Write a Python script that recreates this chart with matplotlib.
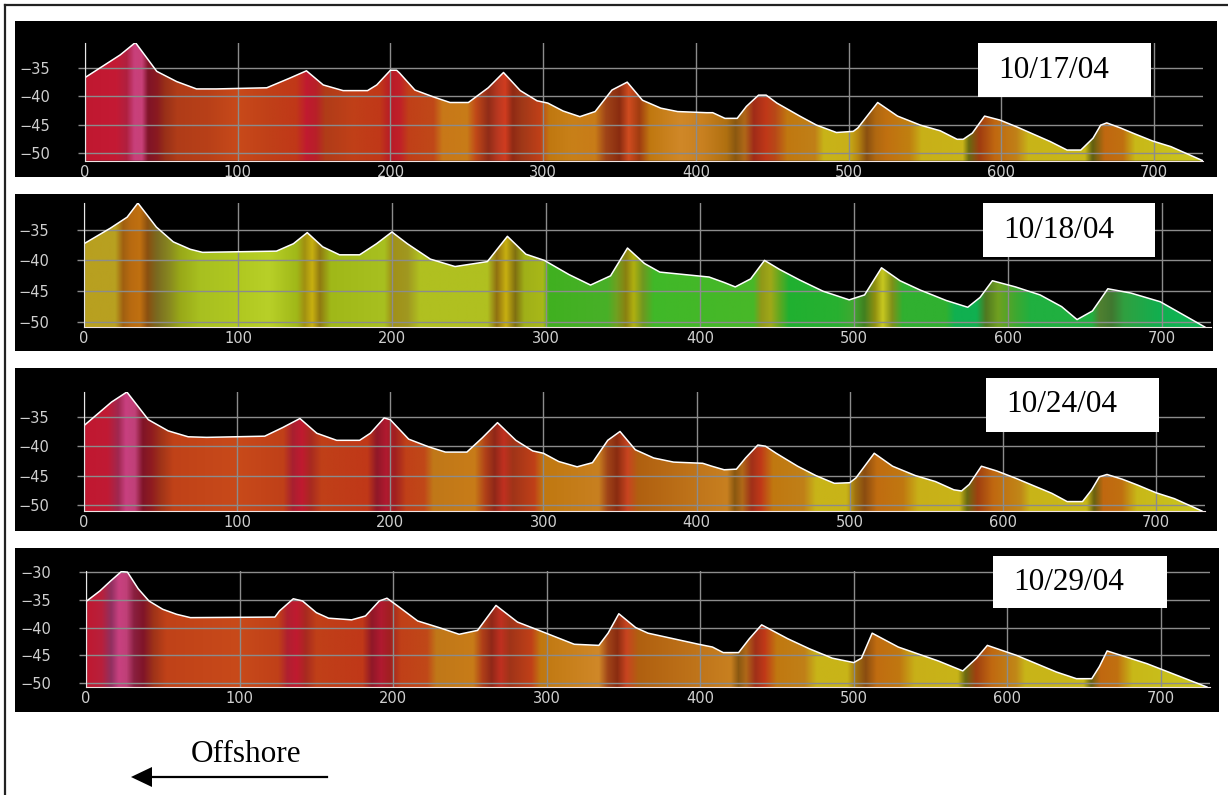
import numpy as np
import matplotlib.pyplot as plt
from matplotlib.patches import Rectangle
from matplotlib.colors import to_rgb

W, H = 1228, 795

xticks = [0, 100, 200, 300, 400, 500, 600, 700]
dates = ["10/17/04", "10/18/04", "10/24/04", "10/29/04"]

# profiles: distance along line (m) vs elevation (m)
x1 = [0, 23, 33, 47, 60, 73, 86, 119, 134, 145, 156, 169, 185, 191, 200, 204, 206, 216, 228, 239,
      251, 264, 274, 285, 296, 303, 313, 324, 334, 345, 355, 365, 377, 388, 407, 411, 419, 427, 433,
      441, 446, 453, 468, 479, 492, 503, 506, 519, 532, 547, 560, 571, 575, 581, 589, 599, 610, 621,
      632, 643, 652, 660, 665, 669, 678, 686, 699, 711, 732]
z1 = [-36.7, -32.7, -30.5, -35.6, -37.4, -38.7, -38.7, -38.5, -36.8, -35.5, -38.0, -39.0, -39.0, -38.0,
      -35.4, -35.4, -35.9, -38.9, -40.1, -41.1, -41.1, -38.5, -35.8, -39.0, -40.8, -41.2, -42.6, -43.6,
      -42.7, -38.9, -37.5, -40.7, -42.1, -42.7, -42.9, -42.9, -43.9, -43.9, -41.8, -39.8, -39.8, -41.2,
      -43.5, -45.1, -46.4, -46.2, -45.6, -41.1, -43.5, -45.1, -46.1, -47.6, -47.6, -46.5, -43.5, -44.2,
      -45.4, -46.7, -48.0, -49.5, -49.5, -47.4, -45.1, -44.7, -45.6, -46.5, -47.9, -48.9, -51.4]

x2 = [0, 17, 28, 35, 47, 58, 69, 77, 125, 136, 145, 155, 166, 179, 190, 200, 210, 225, 241, 262,
      275, 287, 299, 315, 329, 342, 353, 364, 374, 406, 416, 423, 433, 442, 452, 465, 480, 497, 507,
      518, 530, 543, 560, 574, 582, 590, 605, 621, 635, 645, 655, 665, 680, 699, 728]
z2 = [-37.3, -34.8, -33.0, -30.7, -34.6, -37.0, -38.2, -38.7, -38.5, -37.3, -35.5, -37.8, -39.1, -39.1,
      -37.3, -35.4, -37.3, -39.8, -41.0, -40.2, -36.1, -39.0, -40.0, -42.3, -44.0, -42.5, -38.0, -40.5,
      -41.9, -42.7, -43.6, -44.3, -43.0, -40.0, -41.5, -43.2, -45.0, -46.4, -45.6, -41.2, -43.3, -44.8,
      -46.5, -47.6, -46.0, -43.3, -44.3, -45.6, -47.5, -49.6, -48.2, -44.6, -45.3, -46.7, -50.8]

x3 = [0, 18, 28, 42, 55, 68, 80, 118, 130, 141, 152, 165, 180, 187, 196, 200, 212, 225, 236, 250,
      260, 270, 282, 293, 300, 310, 322, 332, 342, 350, 360, 372, 385, 404, 410, 418, 426, 432, 440,
      445, 452, 466, 478, 490, 500, 504, 516, 528, 543, 556, 568, 573, 578, 586, 596, 608, 620, 632,
      642, 652, 658, 663, 668, 678, 688, 700, 712, 730]
z3 = [-36.5, -32.5, -30.8, -35.5, -37.4, -38.4, -38.5, -38.3, -36.8, -35.3, -37.8, -39.0, -39.0, -37.8,
      -35.2, -35.5, -38.8, -40.1, -41.0, -41.0, -38.6, -36.0, -39.0, -40.8, -41.2, -42.6, -43.5, -42.8,
      -39.0, -37.5, -40.6, -42.0, -42.7, -42.9, -43.4, -44.0, -43.9, -42.0, -39.8, -40.0, -41.2, -43.4,
      -45.0, -46.3, -46.2, -45.4, -41.2, -43.4, -45.0, -46.0, -47.4, -47.6, -46.5, -43.4, -44.2, -45.4,
      -46.7, -48.0, -49.4, -49.4, -47.4, -45.2, -44.8, -45.6, -46.6, -47.9, -48.9, -51.0]

x4 = [0, 9, 16, 23, 27, 34, 41, 50, 59, 68, 123, 126, 135, 141, 150, 158, 173, 182, 191, 196,
      203, 216, 230, 243, 255, 267, 281, 295, 318, 334, 340, 347, 358, 366, 399, 408, 415, 425, 432,
      440, 457, 471, 486, 500, 505, 512, 529, 555, 571, 580, 587, 606, 632, 645, 655, 660, 665, 691, 730]
z4 = [-35.3, -33.4, -31.6, -29.9, -30.0, -33.0, -35.2, -36.7, -37.6, -38.2, -38.1, -37.0, -34.8, -35.2,
      -37.3, -38.3, -38.6, -37.9, -35.2, -34.7, -36.1, -38.8, -40.0, -41.2, -40.5, -36.0, -39.0, -40.5,
      -43.0, -43.2, -41.0, -37.5, -40.0, -41.0, -43.0, -43.5, -44.5, -44.5, -42.0, -39.5, -42.0, -43.8,
      -45.5, -46.3, -45.5, -41.0, -43.5, -46.0, -47.8, -45.5, -43.2, -45.0, -48.0, -49.2, -49.2, -47.0,
      -44.2, -46.5, -50.7]

# colour bands along the line (position, colour)
c1_pos = [0, 20, 27, 32, 37, 41, 47, 52, 60, 80, 100, 120, 138, 145, 151, 157, 175, 193, 200, 206,
          212, 228, 234, 250, 256, 264, 270, 275, 280, 286, 298, 304, 318, 334, 341, 350, 356, 363,
          370, 390, 405, 420, 426, 432, 438, 446, 452, 460, 478, 484, 500, 506, 512, 518, 525, 540,
          548, 575, 579, 586, 596, 610, 618, 655, 660, 668, 680, 688, 735]
c1_col = ['#c01830', '#c41a34', '#b02040', '#c8407c', '#c84078', '#801428', '#8a1a20', '#983018',
          '#b03c18', '#b84018', '#c84a1a', '#c04018', '#c03818', '#c01a30', '#b82028', '#b03c18',
          '#c04018', '#c03818', '#b81a28', '#c02028', '#c04018', '#c04818', '#c87818', '#c87c18',
          '#c04818', '#902c18', '#b83820', '#d03c20', '#902a14', '#a03818', '#c04018', '#c07810',
          '#c88018', '#c87c18', '#a04418', '#8a2c10', '#d04c20', '#a03c10', '#c07810', '#d08828',
          '#c88020', '#b07010', '#8a5810', '#b06818', '#a02c18', '#c03818', '#b84818', '#c07810',
          '#c08018', '#c8b418', '#c8b018', '#b88810', '#8a5010', '#b06810', '#c07010', '#c08010',
          '#c8b018', '#c8b418', '#6a6a10', '#a03c10', '#c06810', '#c08018', '#c8b418', '#c8b818',
          '#606010', '#c06810', '#c07010', '#c8b818', '#cac820']

c2_pos = [0, 20, 25, 30, 36, 41, 47, 55, 62, 75, 100, 120, 138, 143, 148, 153, 160, 195, 200, 210,
          218, 262, 268, 274, 280, 286, 298, 302, 340, 346, 352, 357, 363, 370, 435, 440, 446, 452,
          458, 490, 500, 507, 514, 519, 525, 532, 560, 566, 580, 586, 594, 605, 615, 655, 660, 668,
          676, 700, 735]
c2_col = ['#b8a020', '#b8a020', '#a06010', '#b86a10', '#c07010', '#8a5010', '#7a6a20', '#888820',
          '#98a818', '#a8c020', '#b0c820', '#b8d028', '#a0b818', '#a09010', '#c8b010', '#907a10',
          '#a0b818', '#a8c020', '#a09018', '#a09820', '#b0c020', '#b0c020', '#907010', '#c8b010',
          '#807010', '#a0b018', '#a8b818', '#40b020', '#48b028', '#70a020', '#8a8010', '#b0b010',
          '#709820', '#40b828', '#48b828', '#909818', '#a0a818', '#60a820', '#20b030', '#28b030',
          '#40a830', '#408020', '#909010', '#c8c820', '#809018', '#30b030', '#30b030', '#10b050',
          '#10b050', '#507820', '#70a020', '#40a830', '#20b040', '#20b040', '#508030', '#407830',
          '#30a040', '#10b050', '#10b858']

c3_pos = [0, 15, 22, 27, 33, 38, 44, 50, 58, 100, 130, 136, 142, 148, 155, 185, 191, 197, 203, 210,
          222, 228, 255, 262, 268, 274, 280, 294, 300, 336, 342, 348, 355, 362, 420, 425, 430, 436,
          442, 450, 470, 478, 498, 504, 510, 518, 535, 545, 572, 577, 584, 594, 612, 618, 655, 660,
          666, 678, 688, 735]
c3_col = ['#c01830', '#c01a34', '#a02850', '#c84080', '#c04078', '#801428', '#901c20', '#a03418',
          '#c04218', '#c84a1a', '#c04018', '#a82030', '#c01a30', '#a82a20', '#c04018', '#c03818',
          '#901828', '#b01a30', '#a02020', '#c04018', '#c04818', '#c07818', '#c87c18', '#b04018',
          '#902818', '#c03020', '#a03418', '#c04018', '#c07810', '#c88020', '#a04418', '#8a2c10',
          '#c84420', '#b06010', '#c88020', '#8a5810', '#b06818', '#a03018', '#c03818', '#c07810',
          '#c08018', '#c8b418', '#c8b418', '#a07010', '#8a4c10', '#c06c10', '#c07810', '#c8b018',
          '#c8b418', '#6a6a10', '#a04010', '#c06810', '#c08818', '#c8b418', '#c8b818', '#686010',
          '#c06810', '#c07010', '#c8b818', '#cac820']

c4_pos = [0, 10, 16, 21, 26, 31, 37, 44, 52, 100, 125, 131, 137, 143, 150, 180, 186, 192, 198, 205,
          222, 228, 252, 258, 264, 270, 276, 290, 296, 334, 340, 346, 352, 360, 420, 425, 430, 436,
          442, 450, 468, 476, 496, 502, 508, 515, 530, 540, 568, 573, 580, 590, 606, 612, 650, 655,
          661, 672, 682, 735]
c4_col = ['#c01830', '#b8203c', '#903060', '#c84080', '#c04078', '#8a2040', '#801428', '#a03418',
          '#c04218', '#c84a1a', '#c04018', '#b02030', '#c01a30', '#a82a20', '#c04018', '#c03818',
          '#901828', '#b01a30', '#a02020', '#c04018', '#c04818', '#c07818', '#c87c18', '#b04018',
          '#902818', '#c03020', '#a03418', '#c04018', '#c07810', '#d08828', '#a04418', '#8a2c10',
          '#c84420', '#b06010', '#c88020', '#8a5810', '#b06818', '#a03018', '#c03818', '#c07810',
          '#c08018', '#c8b418', '#c8b418', '#a07010', '#8a4c10', '#c06c10', '#c07810', '#c8b018',
          '#c8b418', '#6a6a10', '#a04010', '#c06810', '#c08818', '#c8b418', '#c8b818', '#686010',
          '#c06810', '#c07010', '#c8b818', '#cac820']

# pixel layout: black box (l, t, r, b), plot area (l, t, r, b), ylim, yticks, date box (l, t, r, b)
panels = [
    dict(x=x1, z=z1, cp=c1_pos, cc=c1_col, box=(15, 21, 1217, 177), area=(85, 42.5, 1203, 160.8),
         ylim=(-51.4, -30.5), yt=[-35, -40, -45, -50], date=(978, 43, 1151, 97)),
    dict(x=x2, z=z2, cp=c2_pos, cc=c2_col, box=(15, 194, 1213, 351), area=(84, 203, 1211, 327),
         ylim=(-50.8, -30.7), yt=[-35, -40, -45, -50], date=(983, 203, 1155, 257)),
    dict(x=x3, z=z3, cp=c3_pos, cc=c3_col, box=(15, 368, 1217, 531), area=(84, 392, 1205, 511),
         ylim=(-51.0, -30.8), yt=[-35, -40, -45, -50], date=(986, 378, 1159, 432)),
    dict(x=x4, z=z4, cp=c4_pos, cc=c4_col, box=(15, 548, 1219, 712), area=(86, 571, 1210, 687),
         ylim=(-50.7, -29.8), yt=[-30, -35, -40, -45, -50], date=(993, 556, 1167, 608)),
]

GRID = '#8c8c8c'

fig = plt.figure(figsize=(W / 100, H / 100), dpi=100)
fig.patch.set_facecolor('white')


def frac(l, t, r, b):
    return [l / W, 1 - b / H, (r - l) / W, (b - t) / H]


for p, date in zip(panels, dates):
    bl, bt, br, bb = frac(*p['box'])
    fig.add_artist(Rectangle((bl, bt), br, bb, transform=fig.transFigure,
                             facecolor='black', edgecolor='none', zorder=-2))
    ax = fig.add_axes(frac(*p['area']))
    ax.set_facecolor('none')
    xmax = 732
    ax.set_xlim(0, xmax)
    ax.set_ylim(*p['ylim'])

    x = np.array(p['x'], float)
    z = np.array(p['z'], float)
    poly = ax.fill_between(x, z, p['ylim'][0], facecolor='none', edgecolor='none')

    xs = np.linspace(0, xmax, 900)
    rgb = np.array([to_rgb(c) for c in p['cc']])
    img = np.stack([np.interp(xs, p['cp'], rgb[:, k]) for k in range(3)], axis=-1)[None, :, :]
    im = ax.imshow(img, extent=(0, xmax, p['ylim'][0], p['ylim'][1]), aspect='auto',
                   interpolation='bilinear', zorder=1)
    im.set_clip_path(poly.get_paths()[0], transform=ax.transData)

    ax.plot(x, z, color='white', lw=1.1, zorder=3, solid_joinstyle='round')

    ax.set_xticks(xticks)
    ax.set_yticks(p['yt'])
    ax.grid(True, color=GRID, lw=1)
    ax.set_axisbelow(False)
    for gl in ax.get_xgridlines() + ax.get_ygridlines():
        gl.set_zorder(2)
    ax.tick_params(axis='y', length=5, width=1, color=GRID, labelcolor='#cfcfcf',
                   labelsize=10.5, pad=20)
    ax.tick_params(axis='x', length=0, labelcolor='#cfcfcf', labelsize=10.5, pad=3)
    for s in ['top', 'right']:
        ax.spines[s].set_visible(False)
    ax.spines['left'].set_color('#e8e8e8')
    ax.spines['left'].set_zorder(4)
    ax.spines['bottom'].set_color('#f0e4e4')
    ax.spines['bottom'].set_zorder(4)

    dl, dt, dr, db = frac(*p['date'])
    fig.add_artist(Rectangle((dl, dt), dr, db, transform=fig.transFigure,
                             facecolor='white', edgecolor='none', zorder=5))
    fig.text((p['date'][0] + 20) / W, 1 - (p['date'][1] + p['date'][3]) / 2 / H, date,
             family='Liberation Serif', fontsize=22.5, color='black', va='center', ha='left',
             zorder=6)

# outer frame (left and top)
fig.add_artist(plt.Line2D([5 / W, 5 / W], [0, 1 - 5 / H], transform=fig.transFigure,
                          color='#222222', lw=1.6))
fig.add_artist(plt.Line2D([5 / W, 1], [1 - 5 / H, 1 - 5 / H], transform=fig.transFigure,
                          color='#222222', lw=1.6))

# offshore arrow
fig.text(246 / W, 1 - 754 / H, 'Offshore', family='Liberation Serif', fontsize=22.5,
         ha='center', va='center')
fig.add_artist(plt.Line2D([150 / W, 327 / W], [1 - 777 / H, 1 - 777 / H],
                          transform=fig.transFigure, color='black', lw=1.6))
fig.add_artist(plt.Polygon([[131 / W, 1 - 777 / H], [152 / W, 1 - 767 / H], [152 / W, 1 - 787 / H]],
                           closed=True, transform=fig.transFigure, facecolor='black',
                           edgecolor='none'))

fig.savefig('out.png', dpi=100)
